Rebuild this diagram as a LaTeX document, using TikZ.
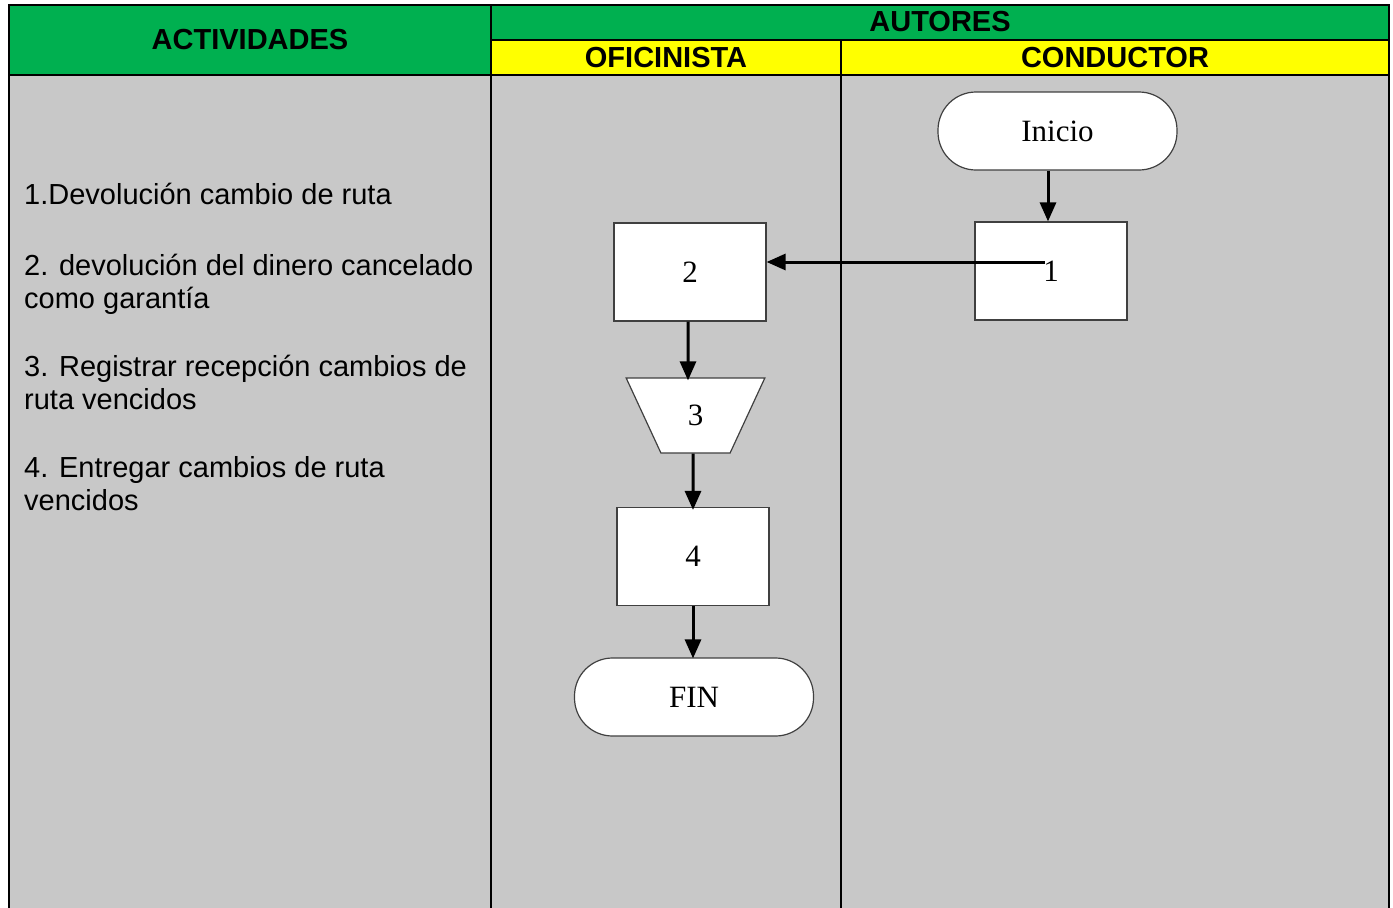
\documentclass[tikz,border=0pt]{standalone}
\usepackage{fontspec}
\setmainfont{Liberation Serif}
\setsansfont{Liberation Sans}
\usetikzlibrary{arrows.meta,shapes.geometric}
\definecolor{hdrgreen}{HTML}{00B050}
\definecolor{hdryellow}{HTML}{FFFF00}
\definecolor{bodygray}{HTML}{C8C8C8}
\definecolor{shapeline}{HTML}{404040}
\tikzset{
  grid line/.style={line width=2.2pt, black},
  hdr/.style={font=\sffamily\bfseries\fontsize{29}{33}\selectfont, inner sep=0pt},
  activity/.style={font=\sffamily\fontsize{29}{33}\selectfont, anchor=base west, inner sep=0pt},
  procbox/.style={draw=shapeline, line width=1.2pt, fill=white, minimum width=152pt, minimum height=98pt, inner sep=0pt, font=\fontsize{31}{35}\selectfont},
  terminal/.style={draw=shapeline, line width=1.2pt, fill=white, rounded corners=38pt, minimum width=239pt, minimum height=78pt, inner sep=0pt, font=\fontsize{31}{35}\selectfont},
  manualop/.style={draw=shapeline, line width=1.2pt, fill=white, trapezium, trapezium stretches=true, shape border rotate=180, trapezium left angle=69.5, trapezium right angle=69.5, minimum width=139pt, minimum height=75pt, inner sep=0pt, font=\fontsize{31}{35}\selectfont},
  flow/.style={line width=3pt, -{Triangle[length=19pt,width=16pt]}}
}
\begin{document}
\begin{tikzpicture}[x=1pt,y=-1pt]
\useasboundingbox (0,0) rectangle (1393,908);
% backgrounds
\fill[white] (0,0) rectangle (1393,908);
\fill[hdrgreen] (9,5) rectangle (1389,75);
\fill[hdryellow] (491,40) rectangle (1389,75);
\fill[bodygray] (9,75) rectangle (1389,908);
% grid lines
\draw[grid line] (9,908) -- (9,5) -- (1389,5) -- (1389,908);
\draw[grid line] (491,5) -- (491,908);
\draw[grid line] (841,40) -- (841,908);
\draw[grid line] (491,40) -- (1389,40);
\draw[grid line] (9,75) -- (1389,75);
% header texts
\node[hdr] (hact) at (250,40) {ACTIVIDADES};
\node[hdr] (haut) at (940,22) {AUTORES};
\node[hdr] (hofi) at (666,57.5) {OFICINISTA};
\node[hdr] (hcon) at (1115,57.5) {CONDUCTOR};
% activities
\node[activity] (t1) at (24,204) {1.Devolución cambio de ruta};
\node[activity] (t2a) at (24,275) {2. devolución del dinero cancelado};
\node[activity] (t2b) at (24,308) {como garantía};
\node[activity] (t3a) at (24,376) {3. Registrar recepción cambios de};
\node[activity] (t3b) at (24,409) {ruta vencidos};
\node[activity] (t4a) at (24,477) {4. Entregar cambios de ruta};
\node[activity] (t4b) at (24,510) {vencidos};
% flowchart
\node[terminal] (ini) at (1057.5,131) {Inicio};
\node[procbox] (p1) at (1051,271) {1};
\node[procbox] (p2) at (690,272) {2};
\node[manualop] (p3) at (695.5,415.5) {3};
\node[procbox] (p4) at (693,556.5) {4};
\node[terminal] (fin) at (694,697) {FIN};
\coordinate (a1) at (1045,262);
% connectors
\draw[flow] ([xshift=-9.5pt]ini.south) -- ([xshift=-3pt]p1.north);
\draw[flow] (a1) -- (p2.east |- a1);
\draw[flow] ([xshift=-2pt]p2.south) -- ([xshift=-7.5pt,yshift=-3pt]p3.north);
\draw[flow] ([xshift=-2.5pt]p3.south) -- ([yshift=-3pt]p4.north);
\draw[flow] (p4.south) -- ([yshift=-1pt]p4.south |- fin.north);
\end{tikzpicture}
\end{document}
